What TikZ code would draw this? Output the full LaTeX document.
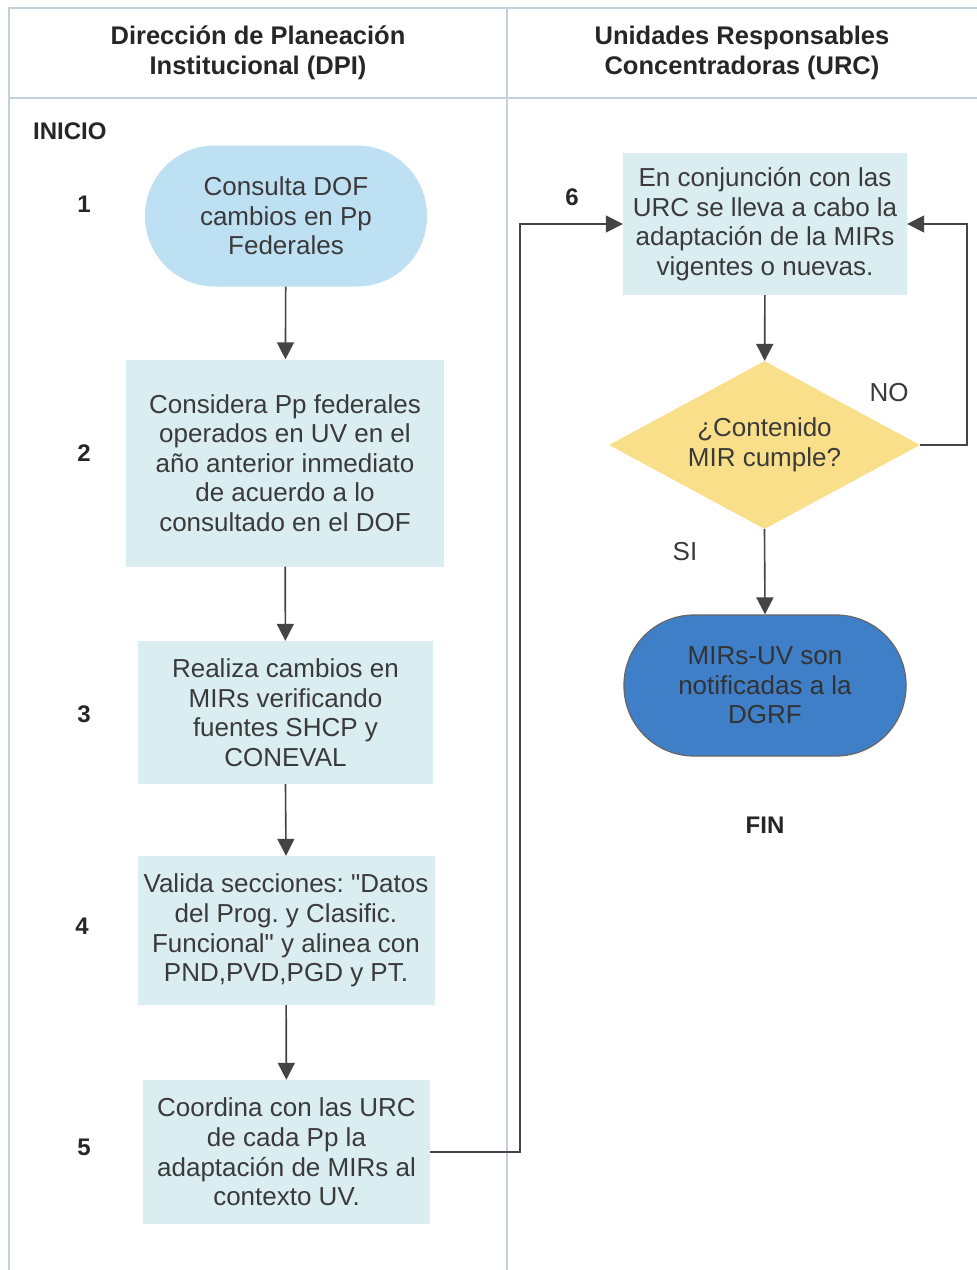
\documentclass[tikz,border=0pt]{standalone}
\usepackage{fontspec}
\setmainfont{Liberation Sans}[Ligatures=TeXOff]
\usetikzlibrary{shapes.geometric,arrows.meta}
\definecolor{lane}{HTML}{C3D1DE}
\definecolor{procfill}{HTML}{DAEDF0}
\definecolor{startfill}{HTML}{BEE0F3}
\definecolor{decfill}{HTML}{FADF8A}
\definecolor{endfill}{HTML}{3F7FC8}
\definecolor{txt}{HTML}{3A3A3A}
\definecolor{arrc}{HTML}{444444}
\frenchspacing
\begin{document}
\begin{tikzpicture}[x=1pt,y=-1pt,
  body/.style={font=\fontsize{26}{29.6}\selectfont, text=txt, align=center, inner sep=0pt},
  proc/.style={body, rectangle, fill=procfill},
  term/.style={body, rectangle, rounded corners=70pt},
  lbl/.style={font=\bfseries\fontsize{24}{29}\selectfont, text=black!85, inner sep=0pt},
  hdr/.style={font=\bfseries\fontsize{25.5}{30}\selectfont, text=black!85, align=center, inner sep=0pt},
  arr/.style={draw=arrc, line width=1.6pt, -{Triangle[length=17pt,width=17pt]}},
  laneline/.style={draw=lane, line width=2pt}]
\useasboundingbox (0,0) rectangle (977,1270);
\fill[white] (0,0) rectangle (977,1270);
% lanes
\draw[laneline] (9,1270) -- (9,8) -- (977,8);
\draw[laneline] (9,98) -- (977,98);
\draw[laneline] (507,8) -- (507,1270);
\node[hdr] (h1) at (258,53) {Dirección de Planeación\\Institucional (DPI)};
\node[hdr] (h2) at (742,53) {Unidades Responsables\\Concentradoras (URC)};
% labels
\node[lbl, anchor=west] (inicio) at (33,131) {INICIO};
\node[lbl] (l1) at (84,204) {1};
\node[lbl] (l2) at (84,453) {2};
\node[lbl] (l3) at (84,714) {3};
\node[lbl] (l4) at (82,926) {4};
\node[lbl] (l5) at (84,1147) {5};
\node[lbl] (l6) at (572,197) {6};
\node[lbl] (fin) at (765,825) {FIN};
% nodes
\node[term, fill=startfill, minimum width=282pt, minimum height=141pt] (n1) at (286,216)
  {Consulta DOF\\cambios en Pp\\Federales};
\node[proc, minimum width=318pt, minimum height=207pt] (n2) at (285,463)
  {Considera Pp federales\\operados en UV en el\\año anterior inmediato\\de acuerdo a lo\\consultado en el DOF};
\node[proc, minimum width=295pt, minimum height=143pt] (n3) at (285.5,712.5)
  {Realiza cambios en\\MIRs verificando\\fuentes SHCP y\\CONEVAL};
\node[proc, minimum width=297pt, minimum height=149pt] (n4) at (286,930.5)
  {Valida secciones: "Datos\\del Prog. y Clasific.\\Funcional" y alinea con\\PND,PVD,PGD y PT.};
\node[proc, minimum width=287pt, minimum height=144pt] (n5) at (286.5,1152)
  {Coordina con las URC\\de cada Pp la\\adaptación de MIRs al\\contexto UV.};
\node[proc, minimum width=284pt, minimum height=142pt] (n6) at (765,224)
  {En conjunción con las\\URC se lleva a cabo la\\adaptación de la MIRs\\vigentes o nuevas.};
\node[body, diamond, fill=decfill, aspect=1.85, minimum width=311pt, minimum height=168pt] (d) at (764.5,445)
  {¿Contenido\\MIR cumple?};
\node[term, fill=endfill, draw=black!60, line width=1.2pt, text=black!80, minimum width=282pt, minimum height=141pt] (n7) at (765,685.5)
  {MIRs-UV son\\notificadas a la\\DGRF};
% connectors
\draw[arr] (n1) -- (n2);
\draw[arr] (n2) -- (n3);
\draw[arr] (n3.south) -- (n4.north);
\draw[arr] (n4) -- (n5);
\draw[arr] (n5.east) -| (520,224) -- (n6.west);
\draw[arr] (n6) -- (d);
\draw[arr] (d.east) -- (967,445) |- (n6.east);
\draw[arr] (d.south) -- (n7.north);
\node[body] (no) at (889,393) {NO};
\node[body] (si) at (685,552) {SI};
\end{tikzpicture}
\end{document}
